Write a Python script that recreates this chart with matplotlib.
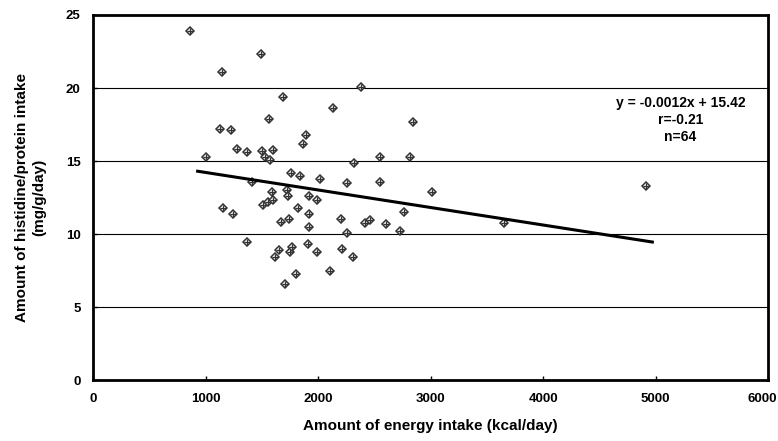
import matplotlib.pyplot as plt
import matplotlib.transforms as mtransforms

plt.rcParams['font.family'] = ['Liberation Sans', 'DejaVu Sans']

# energy intake (kcal/day) and histidine/protein intake (mg/g/day)
energy = [862, 1493, 1147, 1689, 1564, 1129, 1227, 1893, 1867, 1004,
          1280, 1369, 1502, 1600, 1529, 1573, 1413, 1760, 1840, 2018,
          1591, 1724, 1733, 1511, 1556, 1600, 1920, 1991, 1156, 1244,
          1822, 1920, 1671, 1742, 1920, 1369, 1618, 1653, 1751, 1769,
          1911, 1991, 1804, 1707, 2107, 2382, 2133, 2844, 2551, 2818,
          2320, 2258, 2551, 3013, 2764, 2204, 2418, 2462, 2604, 2729,
          2258, 2213, 2311, 3653, 4916]
histidine = [23.9, 22.3, 21.1, 19.4, 17.9, 17.2, 17.1, 16.8, 16.2, 15.3,
             15.8, 15.6, 15.7, 15.75, 15.3, 15.1, 13.6, 14.2, 14.0, 13.8,
             12.9, 13.0, 12.6, 12.0, 12.2, 12.3, 12.6, 12.3, 11.8, 11.4,
             11.8, 11.4, 10.8, 11.0, 10.5, 9.45, 8.4, 8.9, 8.8, 9.1,
             9.3, 8.8, 7.3, 6.6, 7.5, 20.1, 18.6, 17.7, 15.3, 15.3,
             14.9, 13.5, 13.6, 12.9, 11.5, 11.0, 10.75, 10.95, 10.7, 10.2,
             10.1, 9.0, 8.4, 10.75, 13.3]

slope = -0.0012
intercept = 15.42

fig = plt.figure(figsize=(7.78, 4.41), dpi=100)
ax = fig.add_axes([0.1195, 0.138, 0.868, 0.828])

ax.set_xlim(0, 6000)
ax.set_ylim(0, 25)
ax.set_xticks(range(0, 6001, 1000))
ax.set_yticks(range(0, 26, 5))
ax.yaxis.grid(True, color='black', linewidth=0.8)
ax.set_axisbelow(True)

ax.plot(energy, histidine, linestyle='none', marker='D', markersize=4,
        markerfacecolor='white', markeredgecolor='#333333', markeredgewidth=1.1)
ax.plot(energy, histidine, linestyle='none', marker='+', markersize=4,
        color='#333333', markeredgewidth=0.9)

x0, x1 = 930, 4970
ax.plot([x0, x1], [slope * x0 + intercept, slope * x1 + intercept],
        color='black', linewidth=2.2)

ax.text(5220, 19.45, 'y = -0.0012x + 15.42\nr=-0.21\nn=64', ha='center', va='top',
        fontsize=10, fontweight='bold', linespacing=1.25)

for s in ax.spines.values():
    s.set_linewidth(2)
    s.set_color('black')
ax.tick_params(direction='in', length=3, labelsize=9.5, width=1)
ax.tick_params(axis='x', pad=9)
ax.tick_params(axis='y', pad=9)
for lab in ax.get_xticklabels() + ax.get_yticklabels():
    lab.set_fontweight('bold')

# keep the last x label inside the figure
last = ax.get_xticklabels()[-1]
last.set_horizontalalignment('right')
last.set_transform(last.get_transform() + mtransforms.ScaledTranslation(0.09, 0, fig.dpi_scale_trans))

ax.set_xlabel('Amount of energy intake (kcal/day)', fontsize=11, fontweight='bold', labelpad=10)
ax.set_ylabel('Amount of histidine/protein intake\n(mg/g/day)', fontsize=11,
              fontweight='bold', labelpad=14, linespacing=1.3)

fig.savefig('out.png', dpi=100)
